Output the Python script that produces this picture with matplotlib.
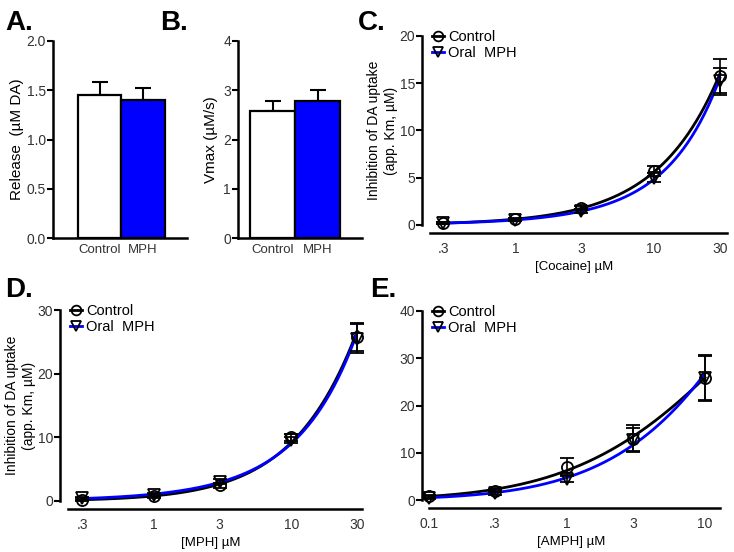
import matplotlib.pyplot as plt
import numpy as np
from matplotlib.lines import Line2D

plt.rcParams['font.family'] = ['Liberation Sans', 'DejaVu Sans']

# panel A / B bars
groups = ['Control', 'MPH']
release = [1.45, 1.40]
release_err = [0.13, 0.12]
vmax = [2.57, 2.78]
vmax_err = [0.22, 0.22]

# panel C: cocaine
coc_x = [0.3, 1, 3, 10, 30]
coc_ctl = [0.2, 0.6, 1.8, 5.7, 15.8]
coc_ctl_err = [0.1, 0.15, 0.2, 0.5, 1.8]
coc_mph = [0.2, 0.5, 1.5, 5.0, 15.2]
coc_mph_err = [0.1, 0.1, 0.2, 0.5, 1.4]

# panel D: MPH
mph_x = [0.3, 1, 3, 10, 30]
mph_ctl = [0.2, 0.8, 2.5, 10.0, 25.8]
mph_ctl_err = [0.2, 0.3, 0.4, 0.5, 2.2]
mph_mph = [0.4, 1.0, 3.0, 9.6, 25.5]
mph_mph_err = [0.2, 0.3, 0.4, 0.5, 2.3]

# panel E: AMPH
amph_x = [0.1, 0.3, 1, 3, 10]
amph_ctl = [0.8, 2.0, 7.0, 13.0, 25.8]
amph_ctl_err = [0.3, 0.4, 1.8, 2.8, 4.8]
amph_mph = [0.5, 1.5, 4.5, 12.8, 25.8]
amph_mph_err = [0.3, 0.4, 0.6, 2.5, 4.6]

W, H = 734, 552
fig = plt.figure(figsize=[W / 100, H / 100], dpi=100)
BLUE = '#0000ff'


def px_axes(x0, y_top, x1, y_bot):
    return fig.add_axes([x0 / W, 1 - y_bot / H, (x1 - x0) / W, (y_bot - y_top) / H])


def bar_panel(ax, vals, errs, xl, ylim, yticks, fmt, ylabel, pad):
    ax.bar([0, 1], vals, width=1, color=['white', BLUE], edgecolor='black', linewidth=1.6, zorder=2)
    for i in range(2):
        ax.errorbar(i, vals[i], yerr=[[0], [errs[i]]], color='black', capsize=6,
                    elinewidth=1.5, capthick=1.5, zorder=1)
    ax.set_xlim(*xl)
    ax.set_ylim(*ylim)
    ax.set_yticks(yticks)
    ax.set_yticklabels([fmt % t for t in yticks])
    ax.set_xticks([0, 1])
    ax.set_xticklabels(groups, fontsize=9.5, color='#333333')
    ax.tick_params(axis='x', length=0, pad=4)
    ax.tick_params(axis='y', length=4, width=1.5, labelsize=10, color='black', labelcolor='#333333', pad=1)
    for s in ['top', 'right']:
        ax.spines[s].set_visible(False)
    for s in ['left', 'bottom']:
        ax.spines[s].set_linewidth(1.8)
    ax.set_ylabel(ylabel, fontsize=11, labelpad=pad)


axA = px_axes(53, 41, 187, 238)
bar_panel(axA, release, release_err, (-1.07, 2.01), (0, 2.0), [0, 0.5, 1.0, 1.5, 2.0], '%.1f',
          'Release  (\u00b5M DA)', 2)
axB = px_axes(238, 41, 362, 238)
bar_panel(axB, vmax, vmax_err, (-0.77, 1.99), (0, 4), [0, 1, 2, 3, 4], '%d', 'Vmax (\u00b5M/s)', 4)


def fit_curve(x, y):
    coef = np.polyfit(np.log10(x), np.log10(y), 2)
    p = np.poly1d(coef)
    xs = np.logspace(np.log10(x[0]), np.log10(x[-1]), 200)
    return xs, 10 ** p(np.log10(xs))


def curve_panel(ax, x, ctl, ctl_err, mph, mph_err, xlim, xb, ylim, yticks, xticklabels, xlabel,
                ylabel=True):
    ax.set_xscale('log')
    xs, ys = fit_curve(x, ctl)
    ax.plot(xs, ys, color='black', lw=2, zorder=3, clip_on=False)
    xs, ys = fit_curve(x, mph)
    ax.plot(xs, ys, color=BLUE, lw=2, zorder=3, clip_on=False)
    ax.errorbar(x, ctl, yerr=ctl_err, fmt='o', ms=8, mfc='none', mec='black', mew=1.3,
                ecolor='black', elinewidth=1.2, capsize=5, capthick=1.2, zorder=4, clip_on=False)
    ax.errorbar(x, mph, yerr=mph_err, fmt='v', ms=8, mfc='none', mec='black', mew=1.3,
                ecolor='black', elinewidth=1.2, capsize=5, capthick=1.2, zorder=4, clip_on=False)
    ax.set_xlim(*xlim)
    ax.set_ylim(*ylim)
    ax.set_yticks(yticks)
    ax.set_xticks(x)
    ax.set_xticklabels(xticklabels)
    ax.minorticks_off()
    ax.tick_params(axis='x', length=0, pad=6, labelsize=10, labelcolor='#333333')
    ax.tick_params(axis='y', length=4, width=1.5, labelsize=10, labelcolor='#333333', pad=1)
    for s in ['top', 'right']:
        ax.spines[s].set_visible(False)
    ax.spines['left'].set_linewidth(1.8)
    ax.spines['bottom'].set_linewidth(1.8)
    ax.spines['bottom'].set_position(('outward', 6))
    ax.spines['bottom'].set_bounds(xb, xlim[1])
    ax.set_xlabel(xlabel, fontsize=9.5, labelpad=4)
    if ylabel:
        ax.set_ylabel('Inhibition of DA uptake\n(app. Km, \u00b5M)', fontsize=10, labelpad=1,
                      linespacing=1.3)
    handles = [Line2D([], [], color='black', lw=2, marker='o', ms=7, mfc='none', mec='black', mew=1.3),
               Line2D([], [], color=BLUE, lw=2, marker='v', ms=7, mfc='none', mec='black', mew=1.3)]
    ax.legend(handles, ['Control', 'Oral  MPH'], loc='upper left', bbox_to_anchor=(0.015, 1.06),
              frameon=False, handlelength=0.8, handletextpad=0.3, labelspacing=0.1,
              fontsize=10.5, borderaxespad=0)


axC = px_axes(422, 36, 727, 225)
curve_panel(axC, coc_x, coc_ctl, coc_ctl_err, coc_mph, coc_mph_err,
            (0.211, 33.8), 0.241, (0, 20), [0, 5, 10, 15, 20],
            ['.3', '1', '3', '10', '30'], '[Cocaine] \u00b5M')

axD = px_axes(60, 310, 362, 501)
curve_panel(axD, mph_x, mph_ctl, mph_ctl_err, mph_mph, mph_mph_err,
            (0.207, 32.6), 0.237, (0, 30), [0, 10, 20, 30],
            ['.3', '1', '3', '10', '30'], '[MPH] \u00b5M')

axE = px_axes(422, 311, 720, 500)
curve_panel(axE, amph_x, amph_ctl, amph_ctl_err, amph_mph, amph_mph_err,
            (0.089, 12.85), 0.1, (0, 40), [0, 10, 20, 30, 40],
            ['0.1', '.3', '1', '3', '10'], '[AMPH] \u00b5M', ylabel=False)

for lab, x, y in [('A.', 5, 30), ('B.', 160, 30), ('C.', 358, 30), ('D.', 5, 297), ('E.', 370, 297)]:
    fig.text(x / W, 1 - y / H, lab, fontsize=20, fontweight='bold', ha='left', va='baseline')

plt.savefig('out.png', dpi=100)
